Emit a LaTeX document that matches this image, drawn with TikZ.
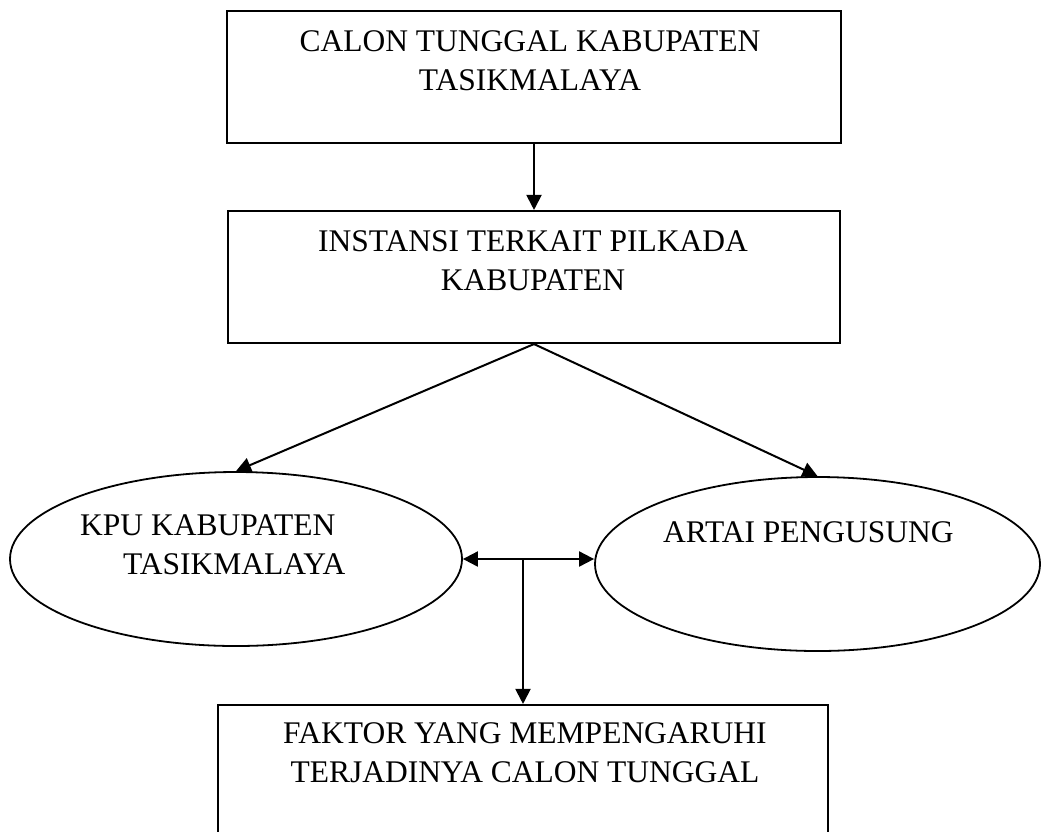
\documentclass[tikz,border=0pt]{standalone}
\usepackage{fontspec}
\setmainfont{Liberation Serif}
\usetikzlibrary{arrows.meta,shapes.geometric,calc}
\begin{document}
\begin{tikzpicture}[x=1pt,y=-1pt,
  boxst/.style={draw,line width=2.1pt,rectangle,inner sep=0pt},
  ellst/.style={draw,line width=1.8pt,ellipse,inner sep=0pt},
  txt/.style={inner sep=0pt,font=\fontsize{31.5}{38.5}\selectfont,align=center},
  arr/.style={line width=2pt,-{Triangle[length=15pt,width=15pt]}},
  darr/.style={line width=2pt,{Triangle[length=15pt,width=15pt]}-{Triangle[length=15pt,width=15pt]}}
]
\useasboundingbox (0,0) rectangle (1041,831);
\clip (0,0) rectangle (1041,831);
% boxes
\node[boxst,minimum width=614pt,minimum height=132pt] (b1) at (534,77) {};
\node[boxst,minimum width=612pt,minimum height=132pt] (b2) at (534,277) {};
\node[boxst,minimum width=610pt,minimum height=140pt] (b3) at (523,775) {};
% ellipses
\node[ellst,minimum width=452pt,minimum height=174pt] (e1) at (236,559) {};
\node[ellst,minimum width=445pt,minimum height=174pt] (e2) at (817.5,564) {};
% texts (base anchor = baseline of the last line)
\node[txt,anchor=base] (t1) at (530,90) {CALON TUNGGAL KABUPATEN\\TASIKMALAYA};
\node[txt,anchor=base] (t2) at (533,290) {INSTANSI TERKAIT PILKADA\\KABUPATEN};
\node[txt,anchor=base] (t3) at (525,782) {FAKTOR YANG MEMPENGARUHI\\TERJADINYA CALON TUNGGAL};
\node[txt,align=left,anchor=base west] (t4) at (80,574) {KPU KABUPATEN\\\hspace*{43pt}TASIKMALAYA};
\node[txt,anchor=base west] (t5) at (663,542) {ARTAI PENGUSUNG};
% connectors
\draw[arr] (b1) -- (b2);
\draw[arr] (b2.south) -- (e1.north);
\draw[arr] (b2.south) -- (e2.north);
\draw[darr] (e1.east) -- (e1.east -| e2.west);
\coordinate (j) at (e1.east -| b3.north);
\draw[arr] (j) -- (b3.north);
\end{tikzpicture}
\end{document}
